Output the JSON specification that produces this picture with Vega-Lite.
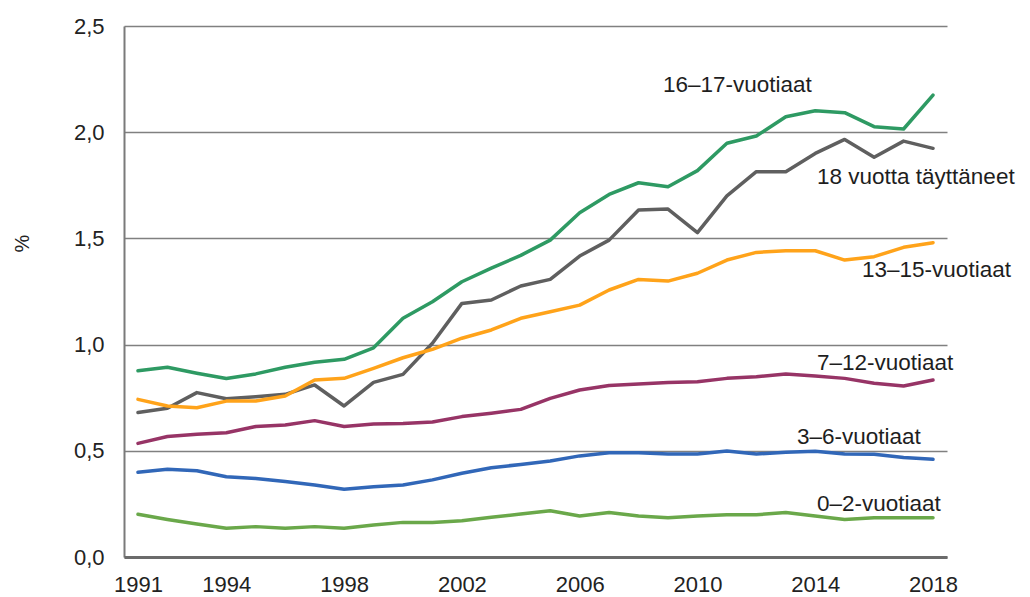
{
  "$schema": "https://vega.github.io/schema/vega-lite/v6.json",
  "width": 823,
  "height": 531,
  "autosize": {"type": "none"},
  "padding": {"left": 124, "top": 26, "right": 83, "bottom": 40},
  "background": "white",
  "config": {
    "view": {"stroke": null},
    "font": "Liberation Sans",
    "axis": {"labelFont": "Liberation Sans", "titleFont": "Liberation Sans", "labelColor": "#222222", "titleColor": "#222222"}
  },
  "datasets": {
    "lines": [
      {"series": "16–17", "year": 1991, "value": 0.877}, {"series": "16–17", "year": 1992, "value": 0.893}, {"series": "16–17", "year": 1993, "value": 0.865}, {"series": "16–17", "year": 1994, "value": 0.84}, {"series": "16–17", "year": 1995, "value": 0.862}, {"series": "16–17", "year": 1996, "value": 0.893}, {"series": "16–17", "year": 1997, "value": 0.917}, {"series": "16–17", "year": 1998, "value": 0.931}, {"series": "16–17", "year": 1999, "value": 0.985}, {"series": "16–17", "year": 2000, "value": 1.124}, {"series": "16–17", "year": 2001, "value": 1.202}, {"series": "16–17", "year": 2002, "value": 1.296}, {"series": "16–17", "year": 2003, "value": 1.36}, {"series": "16–17", "year": 2004, "value": 1.42}, {"series": "16–17", "year": 2005, "value": 1.492}, {"series": "16–17", "year": 2006, "value": 1.621}, {"series": "16–17", "year": 2007, "value": 1.707}, {"series": "16–17", "year": 2008, "value": 1.762}, {"series": "16–17", "year": 2009, "value": 1.743}, {"series": "16–17", "year": 2010, "value": 1.819}, {"series": "16–17", "year": 2011, "value": 1.948}, {"series": "16–17", "year": 2012, "value": 1.982}, {"series": "16–17", "year": 2013, "value": 2.073}, {"series": "16–17", "year": 2014, "value": 2.101}, {"series": "16–17", "year": 2015, "value": 2.092}, {"series": "16–17", "year": 2016, "value": 2.026}, {"series": "16–17", "year": 2017, "value": 2.015}, {"series": "16–17", "year": 2018, "value": 2.175},
      {"series": "18+", "year": 1991, "value": 0.68}, {"series": "18+", "year": 1992, "value": 0.70}, {"series": "18+", "year": 1993, "value": 0.774}, {"series": "18+", "year": 1994, "value": 0.745}, {"series": "18+", "year": 1995, "value": 0.755}, {"series": "18+", "year": 1996, "value": 0.766}, {"series": "18+", "year": 1997, "value": 0.81}, {"series": "18+", "year": 1998, "value": 0.711}, {"series": "18+", "year": 1999, "value": 0.822}, {"series": "18+", "year": 2000, "value": 0.86}, {"series": "18+", "year": 2001, "value": 1.006}, {"series": "18+", "year": 2002, "value": 1.194}, {"series": "18+", "year": 2003, "value": 1.21}, {"series": "18+", "year": 2004, "value": 1.276}, {"series": "18+", "year": 2005, "value": 1.307}, {"series": "18+", "year": 2006, "value": 1.417}, {"series": "18+", "year": 2007, "value": 1.492}, {"series": "18+", "year": 2008, "value": 1.634}, {"series": "18+", "year": 2009, "value": 1.638}, {"series": "18+", "year": 2010, "value": 1.527}, {"series": "18+", "year": 2011, "value": 1.70}, {"series": "18+", "year": 2012, "value": 1.814}, {"series": "18+", "year": 2013, "value": 1.814}, {"series": "18+", "year": 2014, "value": 1.90}, {"series": "18+", "year": 2015, "value": 1.966}, {"series": "18+", "year": 2016, "value": 1.882}, {"series": "18+", "year": 2017, "value": 1.958}, {"series": "18+", "year": 2018, "value": 1.924},
      {"series": "13–15", "year": 1991, "value": 0.742}, {"series": "13–15", "year": 1992, "value": 0.711}, {"series": "13–15", "year": 1993, "value": 0.703}, {"series": "13–15", "year": 1994, "value": 0.734}, {"series": "13–15", "year": 1995, "value": 0.734}, {"series": "13–15", "year": 1996, "value": 0.758}, {"series": "13–15", "year": 1997, "value": 0.833}, {"series": "13–15", "year": 1998, "value": 0.841}, {"series": "13–15", "year": 1999, "value": 0.888}, {"series": "13–15", "year": 2000, "value": 0.938}, {"series": "13–15", "year": 2001, "value": 0.978}, {"series": "13–15", "year": 2002, "value": 1.03}, {"series": "13–15", "year": 2003, "value": 1.069}, {"series": "13–15", "year": 2004, "value": 1.124}, {"series": "13–15", "year": 2005, "value": 1.155}, {"series": "13–15", "year": 2006, "value": 1.186}, {"series": "13–15", "year": 2007, "value": 1.257}, {"series": "13–15", "year": 2008, "value": 1.307}, {"series": "13–15", "year": 2009, "value": 1.299}, {"series": "13–15", "year": 2010, "value": 1.336}, {"series": "13–15", "year": 2011, "value": 1.398}, {"series": "13–15", "year": 2012, "value": 1.434}, {"series": "13–15", "year": 2013, "value": 1.442}, {"series": "13–15", "year": 2014, "value": 1.442}, {"series": "13–15", "year": 2015, "value": 1.398}, {"series": "13–15", "year": 2016, "value": 1.414}, {"series": "13–15", "year": 2017, "value": 1.458}, {"series": "13–15", "year": 2018, "value": 1.48},
      {"series": "7–12", "year": 1991, "value": 0.535}, {"series": "7–12", "year": 1992, "value": 0.567}, {"series": "7–12", "year": 1993, "value": 0.578}, {"series": "7–12", "year": 1994, "value": 0.585}, {"series": "7–12", "year": 1995, "value": 0.614}, {"series": "7–12", "year": 1996, "value": 0.621}, {"series": "7–12", "year": 1997, "value": 0.642}, {"series": "7–12", "year": 1998, "value": 0.614}, {"series": "7–12", "year": 1999, "value": 0.626}, {"series": "7–12", "year": 2000, "value": 0.628}, {"series": "7–12", "year": 2001, "value": 0.636}, {"series": "7–12", "year": 2002, "value": 0.661}, {"series": "7–12", "year": 2003, "value": 0.677}, {"series": "7–12", "year": 2004, "value": 0.695}, {"series": "7–12", "year": 2005, "value": 0.747}, {"series": "7–12", "year": 2006, "value": 0.786}, {"series": "7–12", "year": 2007, "value": 0.807}, {"series": "7–12", "year": 2008, "value": 0.815}, {"series": "7–12", "year": 2009, "value": 0.822}, {"series": "7–12", "year": 2010, "value": 0.825}, {"series": "7–12", "year": 2011, "value": 0.841}, {"series": "7–12", "year": 2012, "value": 0.849}, {"series": "7–12", "year": 2013, "value": 0.862}, {"series": "7–12", "year": 2014, "value": 0.852}, {"series": "7–12", "year": 2015, "value": 0.841}, {"series": "7–12", "year": 2016, "value": 0.818}, {"series": "7–12", "year": 2017, "value": 0.805}, {"series": "7–12", "year": 2018, "value": 0.833},
      {"series": "3–6", "year": 1991, "value": 0.399}, {"series": "3–6", "year": 1992, "value": 0.413}, {"series": "3–6", "year": 1993, "value": 0.406}, {"series": "3–6", "year": 1994, "value": 0.378}, {"series": "3–6", "year": 1995, "value": 0.37}, {"series": "3–6", "year": 1996, "value": 0.355}, {"series": "3–6", "year": 1997, "value": 0.339}, {"series": "3–6", "year": 1998, "value": 0.319}, {"series": "3–6", "year": 1999, "value": 0.331}, {"series": "3–6", "year": 2000, "value": 0.339}, {"series": "3–6", "year": 2001, "value": 0.363}, {"series": "3–6", "year": 2002, "value": 0.394}, {"series": "3–6", "year": 2003, "value": 0.42}, {"series": "3–6", "year": 2004, "value": 0.436}, {"series": "3–6", "year": 2005, "value": 0.452}, {"series": "3–6", "year": 2006, "value": 0.476}, {"series": "3–6", "year": 2007, "value": 0.491}, {"series": "3–6", "year": 2008, "value": 0.491}, {"series": "3–6", "year": 2009, "value": 0.485}, {"series": "3–6", "year": 2010, "value": 0.485}, {"series": "3–6", "year": 2011, "value": 0.499}, {"series": "3–6", "year": 2012, "value": 0.485}, {"series": "3–6", "year": 2013, "value": 0.493}, {"series": "3–6", "year": 2014, "value": 0.498}, {"series": "3–6", "year": 2015, "value": 0.485}, {"series": "3–6", "year": 2016, "value": 0.484}, {"series": "3–6", "year": 2017, "value": 0.468}, {"series": "3–6", "year": 2018, "value": 0.46},
      {"series": "0–2", "year": 1991, "value": 0.201}, {"series": "0–2", "year": 1992, "value": 0.177}, {"series": "0–2", "year": 1993, "value": 0.155}, {"series": "0–2", "year": 1994, "value": 0.135}, {"series": "0–2", "year": 1995, "value": 0.143}, {"series": "0–2", "year": 1996, "value": 0.135}, {"series": "0–2", "year": 1997, "value": 0.143}, {"series": "0–2", "year": 1998, "value": 0.135}, {"series": "0–2", "year": 1999, "value": 0.151}, {"series": "0–2", "year": 2000, "value": 0.163}, {"series": "0–2", "year": 2001, "value": 0.163}, {"series": "0–2", "year": 2002, "value": 0.171}, {"series": "0–2", "year": 2003, "value": 0.187}, {"series": "0–2", "year": 2004, "value": 0.202}, {"series": "0–2", "year": 2005, "value": 0.218}, {"series": "0–2", "year": 2006, "value": 0.193}, {"series": "0–2", "year": 2007, "value": 0.209}, {"series": "0–2", "year": 2008, "value": 0.193}, {"series": "0–2", "year": 2009, "value": 0.185}, {"series": "0–2", "year": 2010, "value": 0.193}, {"series": "0–2", "year": 2011, "value": 0.199}, {"series": "0–2", "year": 2012, "value": 0.199}, {"series": "0–2", "year": 2013, "value": 0.209}, {"series": "0–2", "year": 2014, "value": 0.193}, {"series": "0–2", "year": 2015, "value": 0.177}, {"series": "0–2", "year": 2016, "value": 0.185}, {"series": "0–2", "year": 2017, "value": 0.185}, {"series": "0–2", "year": 2018, "value": 0.185}
    ],
    "labels": [
      {"label": "16–17-vuotiaat", "year": 2008.83, "value": 2.222},
      {"label": "18 vuotta täyttäneet", "year": 2014.06, "value": 1.79},
      {"label": "13–15-vuotiaat", "year": 2015.59, "value": 1.351},
      {"label": "7–12-vuotiaat", "year": 2014.06, "value": 0.912},
      {"label": "3–6-vuotiaat", "year": 2013.38, "value": 0.566},
      {"label": "0–2-vuotiaat", "year": 2014.06, "value": 0.25}
    ]
  },
  "layer": [
    {
      "data": {"name": "lines"},
      "mark": {"type": "line", "strokeCap": "round", "strokeJoin": "round"},
      "encoding": {
        "x": {
          "field": "year", "type": "quantitative",
          "scale": {"domain": [1990.525, 2018.475], "nice": false, "zero": false},
          "axis": {
            "title": null, "values": [1991, 1994, 1998, 2002, 2006, 2010, 2014, 2018], "format": "d",
            "grid": false, "ticks": false, "labelPadding": 17, "labelFontSize": 22,
            "domainColor": "#6b6b6b", "domainWidth": 3, "labelFlush": false, "zindex": 1
          }
        },
        "y": {
          "field": "value", "type": "quantitative",
          "scale": {"domain": [0, 2.5], "nice": false},
          "axis": {
            "title": "%", "titleAngle": 270, "titleFontSize": 20, "titleFontWeight": "normal",
            "titleX": -102, "titleY": 217, "titleAlign": "center", "titleBaseline": "middle",
            "values": [0, 0.5, 1, 1.5, 2, 2.5], "format": ",.1f", "labelExpr": "replace(format(datum.value, '.1f'), '.', ',')",
            "ticks": false, "labelPadding": 20, "labelFontSize": 22,
            "grid": true, "gridColor": "#808080", "gridWidth": 1.5,
            "domainColor": "#7a7a7a", "domainWidth": 2
          }
        },
        "color": {
          "field": "series", "type": "nominal", "legend": null,
          "scale": {"domain": ["16–17", "18+", "13–15", "7–12", "3–6", "0–2"], "range": ["#2e9a63", "#5f5f5f", "#ffa31a", "#973466", "#3167b8", "#6aa84a"]}
        },
        "strokeWidth": {
          "field": "series", "type": "nominal", "legend": null,
          "scale": {"domain": ["16–17", "18+", "13–15", "7–12", "3–6", "0–2"], "range": [3.5, 3.5, 3.5, 3.5, 3.5, 2]}
        },
        "detail": {"field": "series"}
      }
    },
    {
      "data": {"name": "labels"},
      "mark": {"type": "text", "align": "left", "baseline": "middle", "fontSize": 22.5, "font": "Liberation Sans", "color": "#1e1e1e"},
      "encoding": {
        "x": {"field": "year", "type": "quantitative"},
        "y": {"field": "value", "type": "quantitative"},
        "text": {"field": "label"}
      }
    }
  ]
}
